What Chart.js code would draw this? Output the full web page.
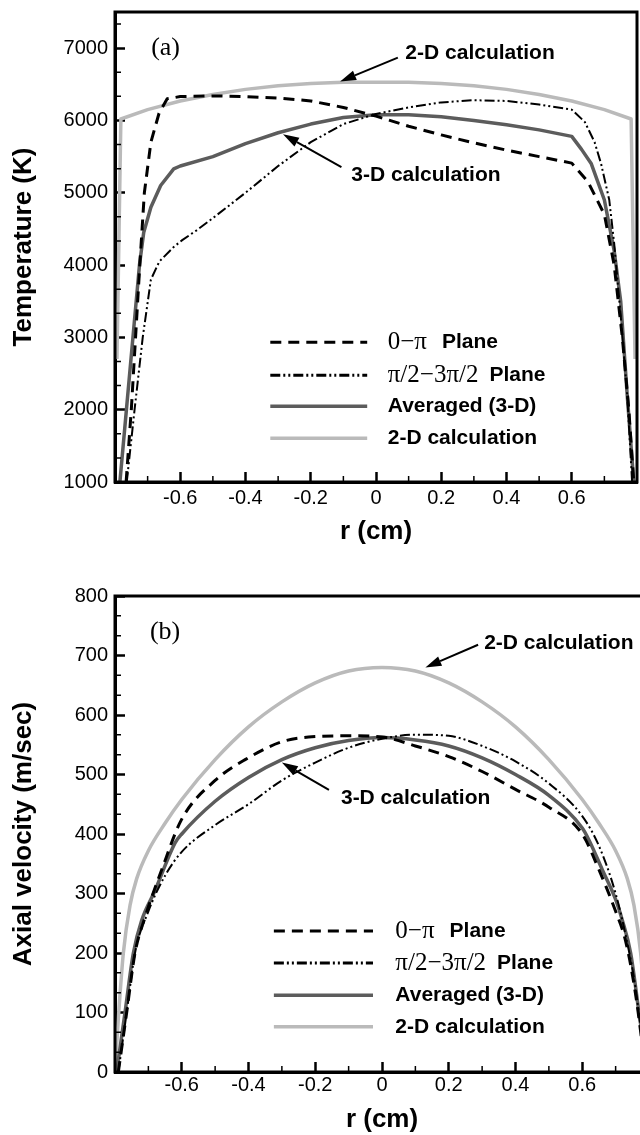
<!DOCTYPE html>
<html><head><meta charset="utf-8">
<script src="https://cdn.jsdelivr.net/npm/chart.js@4/dist/chart.umd.min.js"></script>
<style>
html,body{margin:0;padding:0;background:#fff;width:640px;height:1135px;overflow:hidden;position:relative;}
canvas{position:absolute;left:0;}
#ca{top:0;} #cb{top:560px;}
</style></head><body>
<canvas id="ca" width="640" height="560"></canvas>
<canvas id="cb" width="670" height="575"></canvas>
<script>
// ---------- tick labels ----------
const rTicks = [-0.6, -0.4, -0.2, 0, 0.2, 0.4, 0.6];
const tempTicks = [1000, 2000, 3000, 4000, 5000, 6000, 7000];
const velTicks = [0, 100, 200, 300, 400, 500, 600, 700, 800];

// ---------- legend / series names ----------
const legendMath = ['0\u2212\u03c0', '\u03c0/2\u22123\u03c0/2', '', ''];
const legendText = ['Plane', 'Plane', 'Averaged (3-D)', '2-D calculation'];

// ---------- (a) temperature ----------
const tPlane0R = [-0.766,-0.75,-0.737,-0.724,-0.71,-0.69,-0.665,-0.64,-0.6,-0.5,-0.4,-0.3,-0.2,-0.1,0,0.1,0.2,0.3,0.4,0.5,0.6,0.65,0.7,0.73,0.755,0.775,0.79];
const tPlane0T = [1000,2000,3000,4000,5000,5700,6100,6300,6330,6340,6330,6310,6270,6180,6060,5920,5800,5690,5590,5500,5410,5150,4700,4000,3000,2000,1000];
const tPlane90R = [-0.764,-0.74,-0.715,-0.69,-0.664,-0.62,-0.594,-0.55,-0.497,-0.4,-0.3,-0.2,-0.1,0,0.1,0.2,0.3,0.4,0.5,0.6,0.64,0.67,0.69,0.715,0.73,0.75,0.77,0.785];
const tPlane90T = [1000,2000,3000,3800,4050,4250,4345,4480,4660,5000,5370,5700,5950,6090,6180,6250,6280,6270,6220,6150,5980,5700,5400,4900,4300,3300,2200,1000];
const tAvgR = [-0.785,-0.765,-0.745,-0.725,-0.712,-0.69,-0.66,-0.62,-0.6,-0.5,-0.4,-0.3,-0.2,-0.1,0,0.1,0.2,0.3,0.4,0.5,0.6,0.63,0.66,0.7,0.73,0.75,0.77,0.79];
const tAvgT = [1000,2000,3000,4000,4450,4800,5100,5330,5370,5500,5680,5830,5950,6040,6080,6080,6050,6000,5940,5870,5780,5600,5400,4900,4200,3500,2200,1000];
const t2dR = [-0.794,-0.782,-0.7,-0.6,-0.5,-0.4,-0.3,-0.2,-0.1,0,0.1,0.2,0.3,0.4,0.5,0.6,0.7,0.782,0.794];
const t2dT = [2700,6020,6150,6270,6360,6430,6480,6510,6530,6530,6530,6510,6480,6430,6360,6270,6150,6020,2700];

// ---------- (b) axial velocity ----------
const vPlane0R = [-0.79,-0.765,-0.74,-0.71,-0.66,-0.6,-0.5,-0.41,-0.3,-0.22,-0.1,0,0.1,0.2,0.3,0.4,0.5,0.6,0.65,0.7,0.73,0.76,0.79];
const vPlane0V = [0,100,200,260,340,425,490,525,555,563,565,563,548,530,505,475,445,400,340,270,220,130,0];
const vPlane90R = [-0.79,-0.765,-0.74,-0.7,-0.65,-0.6,-0.5,-0.4,-0.3,-0.2,-0.1,0,0.1,0.2,0.3,0.4,0.5,0.6,0.65,0.7,0.73,0.76,0.79];
const vPlane90V = [0,100,200,270,330,370,415,450,490,520,545,560,567,565,548,522,485,430,380,300,230,140,0];
const vAvgR = [-0.795,-0.77,-0.745,-0.72,-0.68,-0.62,-0.6,-0.5,-0.4,-0.3,-0.2,-0.1,0,0.1,0.2,0.3,0.4,0.5,0.6,0.62,0.66,0.7,0.72,0.745,0.77,0.795];
const vAvgV = [0,100,200,255,305,385,400,455,495,525,545,557,562,558,548,528,500,465,410,390,340,290,255,200,100,0];
const v2dR = [-0.8,-0.79,-0.775,-0.755,-0.735,-0.7,-0.65,-0.6,-0.5,-0.4,-0.3,-0.2,-0.1,0,0.1,0.2,0.3,0.4,0.5,0.6,0.65,0.7,0.735,0.755,0.775,0.79,0.8];
const v2dV = [0,90,200,280,325,372,418,458,525,580,622,654,674,680,674,654,622,580,525,458,418,372,325,280,200,90,0];

// ---------- styles ----------
const F = "'Liberation Sans', Arial, sans-serif";
const FS = "'Liberation Serif', 'Times New Roman', serif";
const lineStyles = [
  {color:'#000000', width:3, dash:[11,7]},
  {color:'#000000', width:2, dash:[10,3,2,3,2,3]},
  {color:'#5c5c5c', width:3.5, dash:[]},
  {color:'#bababa', width:3.5, dash:[]}
];

function pts(rs, vs) { return rs.map((r, i) => ({x: r, y: vs[i]})); }

function drawArrow(ctx, x1, y1, x2, y2) {
  const ang = Math.atan2(y2 - y1, x2 - x1);
  const L = 16, W = 5;
  const bx = x2 - L * Math.cos(ang), by = y2 - L * Math.sin(ang);
  ctx.beginPath(); ctx.moveTo(x1, y1); ctx.lineTo(bx, by); ctx.stroke();
  ctx.beginPath();
  ctx.moveTo(x2, y2);
  ctx.lineTo(bx + W * Math.sin(ang), by - W * Math.cos(ang));
  ctx.lineTo(bx - W * Math.sin(ang), by + W * Math.cos(ang));
  ctx.closePath(); ctx.fill();
}

function makeDeco(o) {
  return {
    id: 'deco',
    afterDraw(chart) {
      const {ctx, chartArea: ca, scales: {x, y}} = chart;
      ctx.save();
      // minor ticks (inward)
      ctx.strokeStyle = '#000'; ctx.lineWidth = 1.5;
      ctx.beginPath();
      for (let i = 0; i < o.xMajor.length - 1; i++) {
        const v = (o.xMajor[i] + o.xMajor[i + 1]) / 2;
        const px = x.getPixelForValue(v);
        ctx.moveTo(px, ca.bottom); ctx.lineTo(px, ca.bottom - 6);
      }
      [o.xMajor[0] - 0.1, o.xMajor[o.xMajor.length - 1] + 0.1].forEach(v => {
        const px = x.getPixelForValue(v);
        ctx.moveTo(px, ca.bottom); ctx.lineTo(px, ca.bottom - 6);
      });
      const st = o.yMajor[1] - o.yMajor[0];
      for (let v = o.yMajor[0] + st / 3; v < y.max; v += st / 3) {
        if (Math.abs(((v - o.yMajor[0]) / st) - Math.round((v - o.yMajor[0]) / st)) < 1e-6) continue;
        const py = y.getPixelForValue(v);
        ctx.moveTo(ca.left, py); ctx.lineTo(ca.left + 6, py);
      }
      ctx.stroke();
      // frame
      ctx.lineWidth = 3; ctx.strokeStyle = '#000';
      ctx.strokeRect(ca.left, ca.top, ca.right - ca.left, ca.bottom - ca.top);
      // panel label
      ctx.fillStyle = '#000';
      ctx.font = '26px ' + FS; ctx.textAlign = 'center'; ctx.textBaseline = 'middle';
      ctx.fillText(o.panel.text, x.getPixelForValue(o.panel.r), y.getPixelForValue(o.panel.v));
      // annotations
      ctx.font = 'bold 21px ' + F; ctx.textAlign = 'left';
      o.notes.forEach(n => {
        ctx.fillText(n.text, x.getPixelForValue(n.r), y.getPixelForValue(n.v));
        ctx.lineWidth = 2;
        drawArrow(ctx, x.getPixelForValue(n.a[0]), y.getPixelForValue(n.a[1]),
                       x.getPixelForValue(n.a[2]), y.getPixelForValue(n.a[3]));
      });
      // legend
      chart.data.datasets.forEach((ds, i) => {
        const py = y.getPixelForValue(o.legend.v[i]);
        ctx.strokeStyle = ds.borderColor;
        ctx.lineWidth = i === 1 ? 3 : ds.borderWidth;
        ctx.setLineDash(ds.borderDash);
        ctx.beginPath();
        ctx.moveTo(x.getPixelForValue(o.legend.r0), py);
        ctx.lineTo(x.getPixelForValue(o.legend.r1), py);
        ctx.stroke();
        ctx.setLineDash([]);
        let tx = x.getPixelForValue(o.legend.rt);
        if (legendMath[i]) {
          ctx.font = '25px ' + FS;
          ctx.fillText(legendMath[i], tx, py);
          tx += ctx.measureText(legendMath[i]).width + (i === 0 ? 15 : 11);
        }
        ctx.font = 'bold 21px ' + F;
        ctx.fillText(legendText[i], tx, py);
      });
      ctx.restore();
    }
  };
}

function makeChart(id, o) {
  const datasets = o.series.map((s, i) => ({
    label: legendText[i],
    data: pts(s[0], s[1]),
    borderColor: lineStyles[i].color,
    borderWidth: lineStyles[i].width,
    borderDash: lineStyles[i].dash,
    pointRadius: 0, fill: false,
    tension: 0,
    cubicInterpolationMode: o.smooth ? 'monotone' : 'default',
    borderCapStyle: 'butt', borderJoinStyle: 'round'
  }));
  return new Chart(document.getElementById(id), {
    type: 'line',
    data: {datasets},
    plugins: [makeDeco(o)],
    options: {
      responsive: false, animation: false, devicePixelRatio: 1,
      layout: {padding: o.padding},
      plugins: {legend: {display: false}, tooltip: {enabled: false}},
      scales: {
        x: {
          type: 'linear', min: -0.8, max: 0.8,
          afterBuildTicks: s => { s.ticks = o.xMajor.map(v => ({value: v})); },
          afterFit: s => { s.height = o.xHeight; s.paddingLeft = 0; s.paddingRight = 0; },
          ticks: {font: {family: F, size: 20}, color: '#000', padding: o.xPad, maxRotation: 0, autoSkip: false,
                  callback: v => String(v)},
          grid: {drawOnChartArea: false, tickLength: -10, tickWidth: 2.5, tickColor: '#000'},
          border: {display: true, width: 3, color: '#000'},
          title: {display: true, text: 'r (cm)', color: '#000',
                  font: {family: F, size: 26, weight: 'bold', lineHeight: 1}, padding: {top: 0, bottom: o.xTitlePad}}
        },
        y: {
          type: 'linear', min: o.yMin, max: o.yMax,
          afterBuildTicks: s => { s.ticks = o.yMajor.map(v => ({value: v})); },
          afterFit: s => { s.width = 115; s.paddingTop = 0; s.paddingBottom = 0; },
          ticks: {font: {family: F, size: 20}, color: '#000', padding: 17, callback: v => String(v)},
          grid: {drawOnChartArea: false, tickLength: -10, tickWidth: 2.5, tickColor: '#000'},
          border: {display: true, width: 3, color: '#000'},
          title: {display: true, text: o.yTitle, color: '#000',
                  font: {family: F, size: 26, weight: 'bold', lineHeight: 1}, padding: {top: 11, bottom: 0}}
        }
      }
    }
  });
}

makeChart('ca', {
  series: [[tPlane0R, tPlane0T], [tPlane90R, tPlane90T], [tAvgR, tAvgT], [t2dR, t2dT]],
  xMajor: rTicks, yMajor: tempTicks, yMin: 1000, yMax: 7500,
  yTitle: 'Temperature (K)', smooth: false,
  padding: {top: 12, right: 3, left: 0, bottom: 0},
  xHeight: 78, xPad: 14, xTitlePad: 15,
  panel: {text: '(a)', r: -0.645, v: 7000},
  notes: [
    {text: '2-D calculation', r: 0.09, v: 6930, a: [0.067, 6870, -0.11, 6540]},
    {text: '3-D calculation', r: -0.076, v: 5243, a: [-0.106, 5354, -0.285, 5810]}
  ],
  legend: {r0: -0.324, r1: -0.027, rt: 0.036, v: [2934, 2477, 2048, 1606]}
});

makeChart('cb', {
  series: [[vPlane0R, vPlane0V], [vPlane90R, vPlane90V], [vAvgR, vAvgV], [v2dR, v2dV]],
  xMajor: rTicks, yMajor: velTicks, yMin: 0, yMax: 800,
  yTitle: 'Axial velocity (m/sec)', smooth: true,
  padding: {top: 36, right: 21, left: 0, bottom: 0},
  xHeight: 63, xPad: 11, xTitlePad: 2,
  panel: {text: '(b)', r: -0.65, v: 740},
  notes: [
    {text: '2-D calculation', r: 0.306, v: 721, a: [0.288, 718, 0.13, 680]},
    {text: '3-D calculation', r: -0.123, v: 460, a: [-0.159, 474, -0.3, 520]}
  ],
  legend: {r0: -0.324, r1: -0.027, rt: 0.04, v: [237, 183, 129, 76]}
});
</script>
</body></html>
